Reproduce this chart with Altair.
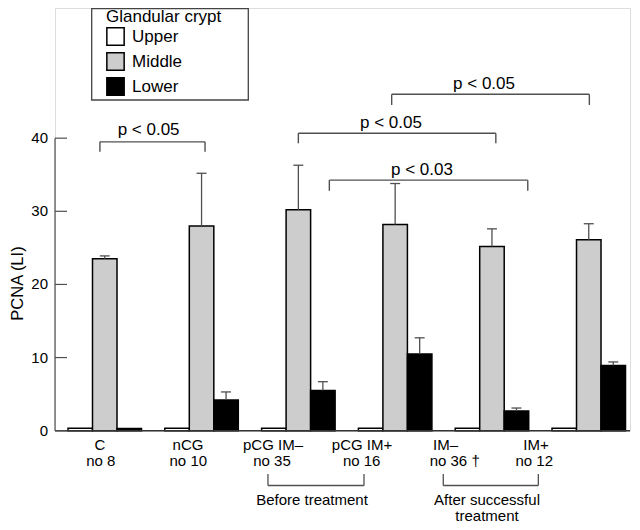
import altair as alt
import pandas as pd

# ---------------- data ----------------
groups = ["C", "nCG", "pCG IM–", "pCG IM+", "IM–", "IM+"]
group_n = ["no 8", "no 10", "no 35", "no 16", "no 36 †", "no 12"]
series = ["Upper", "Middle", "Lower"]
upper = [0.33, 0.33, 0.33, 0.33, 0.33, 0.33]
middle = [23.5, 28.0, 30.2, 28.2, 25.2, 26.1]
middle_err_top = [23.9, 35.2, 36.3, 33.8, 27.6, 28.3]
lower = [0.3, 4.2, 5.5, 10.5, 2.7, 8.9]
lower_err_top = [None, 5.3, 6.7, 12.7, 3.1, 9.4]
y_ticks = [0, 10, 20, 30, 40]
y_title = "PCNA (LI)"

# significance brackets (x in group units, y in PCNA units)
sig_start = [-0.05, 2.0, 2.32, 2.964]
sig_end = [1.036, 4.04, 4.37, 5.006]
sig_level = [39.5, 40.67, 34.26, 46.0]
sig_tick = [38.15, 39.3, 32.8, 44.54]
sig_label = ["p < 0.05", "p < 0.05", "p < 0.03", "p < 0.05"]
sig_label_x = [0.453, 2.957, 3.277, 3.918]
sig_label_y = [40.43, 41.43, 35.03, 46.69]

# category label anchors (group units)
label1_x = [-0.049, 0.86, 1.738, 2.658, 3.52, 4.455]
label2_x = [-0.041, 0.863, 1.728, 2.654, 3.615, 4.437]

# period brackets
period_start = [1.686, 3.497]
period_end = [2.678, 4.479]
period_label = ["Before treatment", "After successful\ntreatment"]
period_label_x = [2.141, 3.949]

# ---------------- layout constants ----------------
W, H = 575, 422.7
BAR_W = 0.2531
CAP_W = 0.103
FONT = "Liberation Sans"
GRAY = "#505050"

xscale = alt.Scale(domain=[-0.514, 5.426], nice=False, zero=False)
yscale = alt.Scale(domain=[0, 57.8], nice=False, zero=True)

values = {"Upper": upper, "Middle": middle, "Lower": lower}
errs = {"Middle": middle_err_top, "Lower": lower_err_top}

bar_rows, err_rows = [], []
for i, g in enumerate(groups):
    for k, s in enumerate(series):
        c = i + (k - 1) * BAR_W
        v = values[s][i]
        bar_rows.append({"group": g, "series": s, "order": k,
                         "x0": c - BAR_W / 2, "x1": c + BAR_W / 2, "value": v,
                         "zero": 0})
        if s in errs and errs[s][i] is not None:
            err_rows.append({"xc": c, "xl": c - CAP_W / 2, "xr": c + CAP_W / 2,
                             "value": v, "top": errs[s][i]})
bars_df = pd.DataFrame(bar_rows)
err_df = pd.DataFrame(err_rows)

sig_df = pd.DataFrame({"s": sig_start, "e": sig_end, "level": sig_level,
                       "tick": sig_tick, "label": sig_label,
                       "lx": sig_label_x, "ly": sig_label_y})
sig_ticks = pd.DataFrame({"x": sig_start + sig_end,
                          "level": sig_level + sig_level,
                          "tick": sig_tick + sig_tick})
lab_df = pd.DataFrame({"g": groups, "n": group_n, "x1": label1_x, "x2": label2_x})
per_df = pd.DataFrame({"s": period_start, "e": period_end,
                       "label": period_label, "lx": period_label_x})
per_ticks = pd.DataFrame({"x": period_start + period_end})
tick_df = pd.DataFrame({"t": y_ticks, "label": [str(t) for t in y_ticks],
                        "zero": 0, "top": max(y_ticks)})
title_df = pd.DataFrame({"title": [y_title]})

X = lambda f: alt.X(f, type="quantitative", scale=xscale, axis=None)
Y = lambda f: alt.Y(f, type="quantitative", scale=yscale, axis=None)

bars = alt.Chart(bars_df).mark_rect(stroke="black", strokeWidth=1.5).encode(
    x=X("x0"), x2="x1",
    y=Y("value"), y2="zero",
    fill=alt.Fill("series:N", sort=series,
                  scale=alt.Scale(domain=series,
                                  range=["white", "#cdcdcd", "black"]),
                  legend=alt.Legend(orient="none", legendX=50, legendY=0,
                                    padding=1, title="Glandular crypt",
                                    titleFontSize=17, titleFontWeight="normal",
                                    titleColor="black", titleFont=FONT,
                                    titlePadding=1, labelFontSize=17,
                                    labelColor="black", labelFont=FONT,
                                    symbolType="square", symbolSize=300,
                                    symbolStrokeColor="black",
                                    symbolStrokeWidth=1.5, labelOffset=7,
                                    rowPadding=0)),
)

stems = alt.Chart(err_df).mark_rule(color=GRAY, strokeWidth=1.3).encode(
    x=X("xc"), y=Y("value"), y2="top")
caps = alt.Chart(err_df).mark_rule(color=GRAY, strokeWidth=1.3).encode(
    x=X("xl"), x2="xr", y=Y("top"))

baseline = alt.Chart(tick_df.head(1)).mark_rule(color="#333333", strokeWidth=1.5).encode(
    x=alt.value(0), x2=alt.value(W), y=Y("zero"))
yline = alt.Chart(tick_df.head(1)).mark_rule(color=GRAY, strokeWidth=1.2).encode(
    x=alt.value(0), y=Y("zero"), y2="top")
yticks = alt.Chart(tick_df).mark_rule(color=GRAY, strokeWidth=1.2).encode(
    x=alt.value(0), x2=alt.value(12), y=Y("t"))
ylabels = alt.Chart(tick_df).mark_text(fontSize=15, font=FONT, color="black",
                                       align="right", baseline="middle").encode(
    x=alt.value(-7), y=Y("t"), text="label")
ytitle = alt.Chart(title_df).mark_text(fontSize=16.5, font=FONT, color="black",
                                       angle=270, align="center",
                                       baseline="middle").encode(
    x=alt.value(-37), y=alt.value(275.5), text="title")

sig_h = alt.Chart(sig_df).mark_rule(color=GRAY, strokeWidth=1.4).encode(
    x=X("s"), x2="e", y=Y("level"))
sig_v = alt.Chart(sig_ticks).mark_rule(color=GRAY, strokeWidth=1.4).encode(
    x=X("x"), y=Y("level"), y2="tick")
sig_t = alt.Chart(sig_df).mark_text(fontSize=17, font=FONT, color="black",
                                    baseline="alphabetic", align="center").encode(
    x=X("lx"), y=Y("ly"), text="label")

lab1 = alt.Chart(lab_df).mark_text(fontSize=15, font=FONT, color="black",
                                   baseline="alphabetic", align="center").encode(
    x=X("x1"), y=alt.value(442), text="g")
lab2 = alt.Chart(lab_df).mark_text(fontSize=15, font=FONT, color="black",
                                   baseline="alphabetic", align="center").encode(
    x=X("x2"), y=alt.value(457.5), text="n")

per_h = alt.Chart(per_df).mark_rule(color=GRAY, strokeWidth=1.3).encode(
    x=X("s"), x2="e", y=alt.value(477.5))
per_v = alt.Chart(per_ticks).mark_rule(color=GRAY, strokeWidth=1.3).encode(
    x=X("x"), y=alt.value(477.5), y2=alt.value(466))
per_t = alt.Chart(per_df).mark_text(fontSize=15, font=FONT, color="black",
                                    baseline="alphabetic", align="center",
                                    lineBreak="\n", lineHeight=15.5).encode(
    x=X("lx"), y=alt.value(497), text="label")

frame = alt.Chart(title_df).mark_rect(fill="transparent", stroke="#444444",
                                      strokeWidth=1.3).encode(
    x=alt.value(36.7), x2=alt.value(193.3), y=alt.value(0.7), y2=alt.value(92))

chart = alt.layer(
    frame, bars, stems, caps, baseline, yline, yticks, ylabels, ytitle,
    sig_h, sig_v, sig_t, lab1, lab2, per_h, per_v, per_t
).properties(
    width=W, height=H, autosize="none",
    padding={"left": 47, "top": 0, "right": 2, "bottom": 91.3},
).configure_view(stroke=None).configure(font=FONT)

chart.save("out.html", embed_options={"renderer": "svg", "actions": False})
